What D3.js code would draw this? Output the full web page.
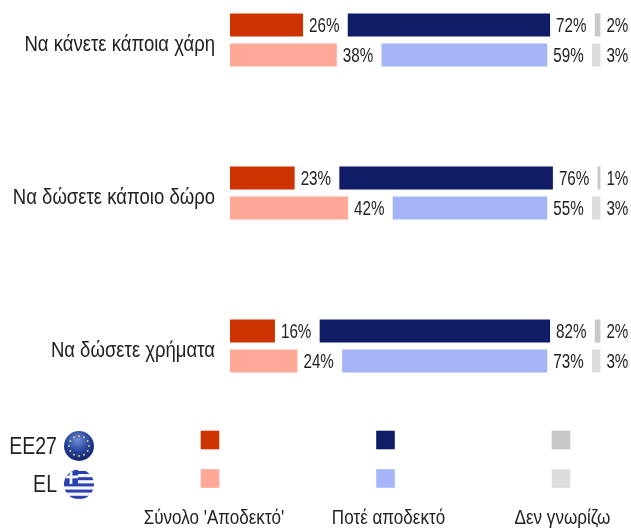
<!DOCTYPE html>
<html><head><meta charset="utf-8">
<script src="https://cdn.jsdelivr.net/npm/d3@7"></script>
<style>html,body{margin:0;padding:0;background:#fff;overflow:hidden}svg{display:block}text{font-family:"Liberation Sans",Arial,sans-serif;fill:#222}</style>
</head><body>
<svg id="c" width="631" height="529"></svg>
<script>
const categories = ["Να κάνετε κάποια χάρη","Να δώσετε κάποιο δώρο","Να δώσετε χρήματα"];
const groups = ["EE27","EL"];
const seriesNames = ["Σύνολο 'Αποδεκτό'","Ποτέ αποδεκτό","Δεν γνωρίζω"];
const acceptableEE27 = [26,23,16];
const acceptableEL = [38,42,24];
const neverEE27 = [72,76,82];
const neverEL = [59,55,73];
const dkEE27 = [2,1,2];
const dkEL = [3,3,3];
const coloursEE27 = ["#cc3300","#101c66","#c8c8c8"];
const coloursEL = ["#ffa897","#a6b4f8","#dddddd"];

const svg = d3.select("#c");
const defs = svg.append("defs");
const x = d3.scaleLinear().domain([0,100]).range([0,281]);
const left = 230, gap = 44.7;
const yCat = d3.scaleBand().domain(categories).range([13.5,13.5+153*3]);
const yGroup = d3.scaleBand().domain(groups).range([0,53]).paddingInner(0.233);
const values = {EE27:[acceptableEE27,neverEE27,dkEE27],EL:[acceptableEL,neverEL,dkEL]};
const colours = {EE27:coloursEE27,EL:coloursEL};

function label(sel,tx,ty,str,size,anchor,sx){
  sel.append("text").attr("transform",`translate(${tx},${ty}) scale(${sx},1)`)
    .attr("text-anchor",anchor).attr("font-size",size).text(str);
}
const g = svg.append("g").style("filter","blur(0.35px)");
categories.forEach((cat,ci)=>{
  const cy = yCat(cat);
  label(g,215,cy+37,cat,21.3,"end",0.87);
  groups.forEach(gr=>{
    const y0 = cy+yGroup(gr), h = yGroup.bandwidth();
    let pos = left;
    values[gr].forEach((arr,si)=>{
      const v = arr[ci], w = x(v);
      g.append("rect").attr("x",pos).attr("y",y0).attr("width",w).attr("height",h).attr("fill",colours[gr][si]);
      label(g,pos+w+6,y0+h/2+6.6,v+"%",19.5,"start",0.78);
      pos += w+gap;
    });
  });
});

// legend
const legendX = d3.scalePoint().domain(seriesNames).range([210,561]);
const legendY = d3.scalePoint().domain(groups).range([440,478.5]);
groups.forEach(gr=>{
  seriesNames.forEach((s,si)=>{
    g.append("rect").attr("x",legendX(s)-9.3).attr("y",legendY(gr)-9.3).attr("width",18.6).attr("height",18.6).attr("fill",colours[gr][si]);
  });
  label(g,57,legendY(gr)+13.5,gr,23,"end",0.85);
});
seriesNames.forEach((s,i)=>label(g,legendX(s)+[4,3,1.5][i],524,s,19.6,"middle",0.87));

// EU badge
const eu = defs.append("radialGradient").attr("id","eu").attr("cx","45%").attr("cy","30%").attr("r","75%");
eu.append("stop").attr("offset","0%").attr("stop-color","#6f8fd8");
eu.append("stop").attr("offset","55%").attr("stop-color","#23409a");
eu.append("stop").attr("offset","100%").attr("stop-color","#101f66");
const fx=79, euY=446, elY=484.5, r=15;
g.append("circle").attr("cx",fx).attr("cy",euY).attr("r",r).attr("fill","url(#eu)");
d3.range(12).forEach(i=>{
  const a=i/12*2*Math.PI;
  g.append("circle").attr("cx",fx+10*Math.cos(a)).attr("cy",euY+10*Math.sin(a)).attr("r",1).attr("fill","#d8cf60");
});
// Greek badge
const clip = defs.append("clipPath").attr("id","gr");
clip.append("circle").attr("cx",fx).attr("cy",elY).attr("r",r);
const fl = g.append("g").attr("clip-path","url(#gr)");
fl.append("rect").attr("x",fx-r).attr("y",elY-r).attr("width",2*r).attr("height",2*r).attr("fill","#f4f6fb");
d3.range(5).forEach(i=>{
  fl.append("rect").attr("x",fx-r).attr("y",elY-r+1.5+i*6.2).attr("width",2*r).attr("height",3).attr("fill","#2a3fb0");
});
fl.append("rect").attr("x",fx-r).attr("y",elY-r).attr("width",14).attr("height",14.5).attr("fill","#2a3fb0");
fl.append("rect").attr("x",fx-r).attr("y",elY-r+6).attr("width",14).attr("height",2.8).attr("fill","#f4f6fb");
fl.append("rect").attr("x",fx-r+5.6).attr("y",elY-r).attr("width",2.8).attr("height",14.5).attr("fill","#f4f6fb");
</script>
</body></html>
